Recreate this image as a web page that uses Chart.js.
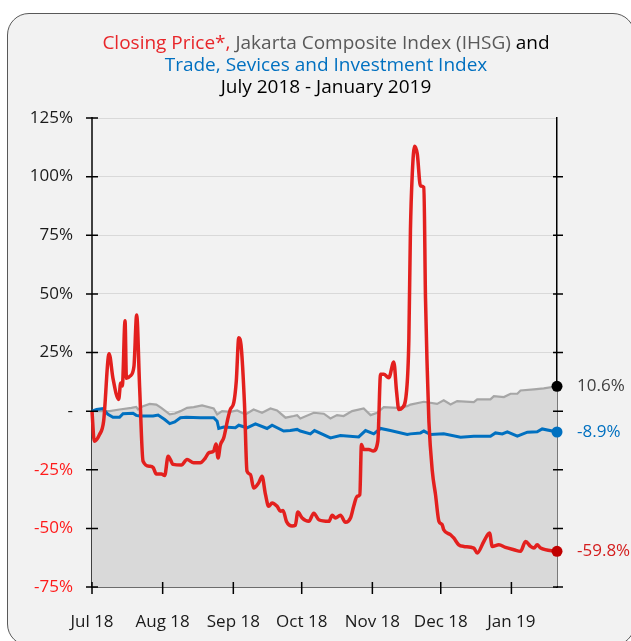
<!DOCTYPE html>
<html>
<head>
<meta charset="utf-8">
<script src="https://cdn.jsdelivr.net/npm/chart.js@4.4.0/dist/chart.umd.min.js"></script>
<style>
  html, body { margin: 0; padding: 0; background: #fff; width: 631px; height: 641px; overflow: hidden; }
  #card { position: absolute; left: 7px; top: 13px; width: 628px; height: 633px; box-sizing: border-box;
          border: 1.5px solid #595959; border-radius: 22px; background: #f2f2f2; }
  #wrap { position: absolute; left: 0; top: 0; width: 631px; height: 641px; }
</style>
</head>
<body>
<div id="card"></div>
<div id="wrap"><canvas id="chart" width="631" height="641"></canvas></div>
<script>
// x values are days counted from 1 July 2018
const monthDays = [0, 31, 62, 92, 123, 153, 184];
const monthLabels = ['Jul 18', 'Aug 18', 'Sep 18', 'Oct 18', 'Nov 18', 'Dec 18', 'Jan 19'];

const closeDays = [0, 1, 3.3, 5.1, 7.5, 9.2, 11.7, 12.6, 13.3, 14.5, 15.1, 16.8, 18.4, 19.6, 20.9, 22.4, 25.3, 26.8, 28.2, 30.4,
  31.9, 33.4, 35.6, 39.2, 41.7, 44.6, 47.5, 49.7, 51.2, 53.4, 54.4, 55.3, 56.3, 57.8, 59.7, 60.7, 62.2, 63.3, 64.4, 65.5,
  66.9, 68, 69.5, 70.9, 73.1, 74.6, 76.1, 77.5, 79, 81.2, 82.7, 83.8, 85.3, 87.8, 89.2, 90.3, 92.2, 95.1, 97.3, 99.5,
  103.9, 105.4, 106.8, 109, 111.2, 113.4, 114.8, 116.3, 117.5, 118.2, 119.2, 121.4, 123.4, 125.4, 126.6, 128, 130.2, 132.4, 133.6, 134.6,
  136.1, 138, 139, 139.7, 140.5, 141.5, 142.7, 144.1, 145.6, 146.3, 147.1, 147.8, 149.3, 150.7, 152.2, 153.6, 154.3, 157.3, 158.7, 160.9,
  163.1, 167.5, 169, 171.9, 174.4, 175.6, 178.5, 181.4, 185.1, 188, 190.2, 192.4, 193.9, 195.3, 196.8, 204];
const closeValues = [0, -12.8, -10, -4.3, 24.5, 14, 5, 12, 10.7, 38.5, 14, 15, 19, 41, 10, -21.4, -23.5, -24, -26.8, -26.8,
  -27.4, -19.2, -22.7, -23, -20.6, -22, -22, -20, -17.8, -17, -14, -20, -14.5, -11.4, -2.8, 0.8, 3.6, 12.8, 31.3, 27,
  3, -25.6, -27, -32.8, -30.6, -27.8, -35.5, -40.6, -39.2, -40.6, -42.7, -42.4, -47, -49, -48.7, -43, -45.6, -47, -43.5, -46.3,
  -47, -44.4, -45.6, -44.4, -47.4, -45.6, -40.6, -36.3, -35.6, -14.2, -16.4, -16.4, -17, -12.8, 15.7, 15.7, 14.2, 21, 8.5, 0.7,
  1.4, 8.5, 30, 77, 101, 113, 109.7, 96, 95.4, 48.4, 17, -4.3, -25.6, -35.6, -47, -48.4, -50.6, -52.7, -54.1, -57,
  -57.7, -58.4, -60.5, -55.6, -52, -57.7, -57, -58.1, -59.1, -59.8, -55.6, -57.7, -58.4, -57, -58.4, -59.8];

const tradeDays = [0, 2, 4.8, 7, 9.2, 12.1, 13.6, 18, 19.4, 20.9, 26.8, 29, 31.9, 34.1, 36.3, 38.8, 41.4, 47.5, 53.4, 54.9,
  55.6, 57.8, 62.9, 64.4, 68, 71.7, 76.8, 79, 84.1, 87, 90, 91.4, 95.8, 97.6, 104.6, 109, 117, 120, 123.6, 126.6,
  130.9, 138.3, 139.7, 144.1, 145.6, 148.5, 154.3, 161.7, 167.5, 174.8, 177, 180, 182.2, 186.6, 191, 195.3, 197.5, 204];
const tradeValues = [0, 0.7, 1.1, -1.4, -2.6, -2.6, -1.1, -0.9, -1.8, -2.1, -2.1, -1.7, -3.6, -5.3, -4.6, -2.8, -2.6, -2.8, -2.8, -4.3,
  -7.4, -6.8, -7.1, -6, -7.1, -5.4, -7.4, -6, -8.5, -8.3, -7.8, -8.5, -9.7, -8.3, -11.4, -10.4, -11, -8.3, -9.7, -7.4,
  -8.3, -10, -9.7, -9.3, -8.5, -10, -9.7, -11.1, -10.7, -10.7, -9.3, -9.7, -8.8, -10.7, -9, -8.8, -7.6, -8.9];

const ihsgDays = [0, 7.7, 12.1, 17.3, 19.4, 20.2, 22.4, 25.3, 28.2, 30.4, 34.1, 36.3, 38.8, 41.7, 44.6, 48.3, 53.4, 54.9, 57.1, 60.7,
  63.7, 67.3, 70.9, 74.6, 78.3, 81.2, 84.9, 88.5, 90, 91.4, 97.3, 101.7, 104.6, 107.5, 110.4, 114.1, 119.2, 122.2, 125.1, 128,
  133.9, 138.3, 139.7, 145.6, 151.4, 154.3, 157.3, 160.2, 167.5, 169, 174.8, 176.3, 180.7, 183.6, 186.6, 188, 193.9, 198.2, 204];
const ihsgValues = [0, 0, 0.7, 1.4, 1.8, 0.7, 2.1, 3.1, 2.8, 1.4, -1.4, -1, 0, 1.4, 1.7, 2.4, 1.1, -1.4, 0, -0.3,
  0.3, -1.4, 0.7, -0.7, 1.1, 0.3, -2.8, -2.1, -1.7, -3.1, -0.7, -1.1, -3.1, -1.7, -2.1, 0, 1.1, -1.7, -0.7, 1.7,
  1.4, 2.1, 2.8, 4, 3.1, 4.6, 2.8, 4.3, 3.8, 5, 5, 6.4, 6, 7.4, 7.4, 8.8, 9.3, 9.7, 10.6];

const titleLines = [
  [['Closing Price*,', '#e8262a'], [' Jakarta Composite Index (IHSG)', '#595959'], [' and', '#000000']],
  [['Trade, Sevices and Investment Index', '#0070c0']],
  [['July 2018 - January 2019', '#000000']]
];

const FONT = '"Open Sans", sans-serif';

function points(days, values) {
  return days.map((d, i) => ({ x: d, y: values[i] }));
}

function endDot() {
  return ctx => ctx.dataIndex === ctx.dataset.data.length - 1 ? 5.5 : 0;
}

const titlePlugin = {
  id: 'multiTitle',
  afterDraw(chart) {
    const ctx = chart.ctx;
    ctx.save();
    ctx.font = '19px ' + FONT;
    ctx.textBaseline = 'middle';
    ctx.textAlign = 'left';
    const cx = 326;
    titleLines.forEach((line, li) => {
      const total = line.reduce((s, seg) => s + ctx.measureText(seg[0]).width, 0);
      let x = cx - total / 2;
      line.forEach(seg => {
        ctx.fillStyle = seg[1];
        ctx.fillText(seg[0], x, 44 + li * 22);
        x += ctx.measureText(seg[0]).width;
      });
    });
    ctx.restore();
  }
};

const axisTickPlugin = {
  id: 'crossTicks',
  afterDraw(chart) {
    const ctx = chart.ctx;
    const a = chart.chartArea;
    const x = chart.scales.x, y = chart.scales.y;
    ctx.save();
    ctx.strokeStyle = '#000';
    ctx.lineWidth = 1.5;
    ctx.beginPath();
    y.ticks.forEach(t => {
      const py = y.getPixelForValue(t.value);
      ctx.moveTo(a.left - 6, py); ctx.lineTo(a.left + 6, py);
      if (t.value < 125) { ctx.moveTo(a.right - 4, py); ctx.lineTo(a.right + 6, py); }
    });
    x.ticks.forEach(t => {
      const px = x.getPixelForValue(t.value);
      ctx.moveTo(px, a.bottom - 5); ctx.lineTo(px, a.bottom + 7);
    });
    ctx.stroke();
    ctx.restore();
  }
};

const endLabelPlugin = {
  id: 'endLabels',
  afterDatasetsDraw(chart) {
    const ctx = chart.ctx;
    ctx.save();
    ctx.font = '17px ' + FONT;
    ctx.textAlign = 'left';
    ctx.textBaseline = 'middle';
    chart.data.datasets.forEach((ds, i) => {
      const meta = chart.getDatasetMeta(i);
      const last = meta.data[meta.data.length - 1];
      const v = ds.data[ds.data.length - 1].y;
      ctx.fillStyle = ds.labelColor;
      ctx.fillText(v.toFixed(1) + '%', 577, last.y);
    });
    ctx.restore();
  }
};

new Chart(document.getElementById('chart'), {
  type: 'line',
  data: {
    datasets: [
      {
        label: 'Closing Price',
        data: points(closeDays, closeValues),
        borderColor: '#e3201e',
        borderWidth: 3.5,
        cubicInterpolationMode: 'monotone',
        pointRadius: endDot(),
        pointBackgroundColor: '#c00000',
        pointBorderWidth: 0,
        labelColor: '#d41e1e',
        clip: false
      },
      {
        label: 'Trade, Sevices and Investment Index',
        data: points(tradeDays, tradeValues),
        borderColor: '#0070c0',
        borderWidth: 3,
        tension: 0,
        pointRadius: endDot(),
        pointBackgroundColor: '#0070c0',
        pointBorderWidth: 0,
        labelColor: '#0070c0',
        clip: false
      },
      {
        label: 'IHSG',
        data: points(ihsgDays, ihsgValues),
        borderColor: '#a6a6a6',
        backgroundColor: '#d9d9d9',
        fill: 'start',
        borderWidth: 2.2,
        tension: 0,
        pointRadius: endDot(),
        pointBackgroundColor: '#000000',
        pointBorderWidth: 0,
        labelColor: '#404040',
        clip: false
      }
    ]
  },
  options: {
    responsive: false,
    animation: false,
    devicePixelRatio: 1,
    layout: { padding: { top: 118, left: 0, right: 0, bottom: 0 } },
    plugins: {
      legend: { display: false },
      tooltip: { enabled: false }
    },
    scales: {
      x: {
        type: 'linear',
        min: 0,
        max: 204,
        afterBuildTicks: s => { s.ticks = monthDays.map(v => ({ value: v })); },
        afterFit: s => { s.height = 54; },
        grid: { display: false, drawTicks: false },
        border: { display: true, color: '#000', width: 1.5 },
        ticks: {
          padding: 25,
          color: '#1a1a1a',
          font: { family: FONT, size: 17 },
          maxRotation: 0,
          callback: v => monthLabels[monthDays.indexOf(v)]
        }
      },
      y: {
        position: 'left',
        min: -75,
        max: 125,
        afterFit: s => { s.width = 92; },
        grid: { color: '#d9d9d9', lineWidth: 1, drawTicks: false },
        border: { display: true, color: '#404040', width: 2 },
        ticks: {
          stepSize: 25,
          padding: 19,
          font: { family: FONT, size: 17 },
          color: ctx => ctx.tick.value < 0 ? '#ff1a1a' : '#1a1a1a',
          callback: v => v === 0 ? '-' : v + '%'
        }
      },
      y2: {
        position: 'right',
        min: -75,
        max: 125,
        afterFit: s => { s.width = 74; },
        grid: { display: false, drawTicks: false },
        border: { display: true, color: '#000', width: 1.5 },
        ticks: { display: false, stepSize: 25 }
      }
    }
  },
  plugins: [titlePlugin, axisTickPlugin, endLabelPlugin]
});
</script>
</body>
</html>
